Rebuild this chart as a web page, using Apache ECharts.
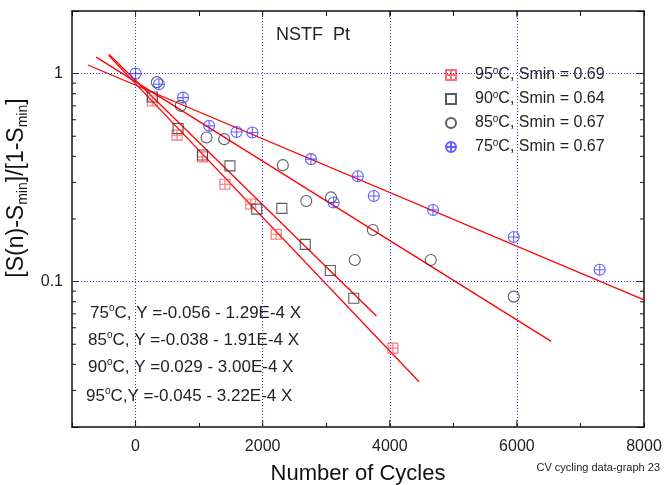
<!DOCTYPE html>
<html>
<head>
<meta charset="utf-8">
<script src="https://cdn.jsdelivr.net/npm/echarts@6/dist/echarts.min.js"></script>
<style>html,body{margin:0;padding:0;background:#fff}#c{width:664px;height:485px}</style>
</head>
<body>
<div id="c"></div>
<script>
// ---- axis ranges / ticks ----
const xMin = -1000, xMax = 8000, xStep = 1000;
const yMin = 0.02, yMax = 2;
const xGridValues = [0, 2000, 4000, 6000];
const xLabelValues = [0, 2000, 4000, 6000, 8000];
const yGridValues = [0.1, 1];
const yMinorTicks = [0.03, 0.04, 0.05, 0.06, 0.07, 0.08, 0.09, 0.2, 0.3, 0.4, 0.5, 0.6, 0.7, 0.8, 0.9];

// ---- series names ----
const names = ['95°C, Smin = 0.69', '90°C, Smin = 0.64', '85°C, Smin = 0.67', '75°C, Smin = 0.67'];

// ---- data ----
const x95 = [263, 653, 1053, 1406, 1812, 2212, 4049];
const y95 = [0.739, 0.506, 0.398, 0.294, 0.236, 0.169, 0.0479];
const x90 = [263, 669, 1053, 1485, 1906, 2302, 2670, 3065, 3433];
const y90 = [0.772, 0.545, 0.406, 0.360, 0.223, 0.225, 0.151, 0.113, 0.0832];
const x85 = [336, 711, 1117, 1395, 2317, 2686, 3076, 3449, 3733, 4645, 5951];
const y85 = [0.91, 0.70, 0.493, 0.484, 0.363, 0.244, 0.254, 0.127, 0.177, 0.127, 0.0847];
const x75 = [0, 368, 747, 1158, 1590, 1838, 2760, 3117, 3496, 3749, 4681, 5951, 7303];
const y75 = [1.0, 0.889, 0.767, 0.561, 0.524, 0.521, 0.388, 0.240, 0.321, 0.258, 0.221, 0.164, 0.114];

// ---- fitted lines (endpoints) ----
const fit75X = [-750, 8000], fit75Y = [1.10, 0.0817];
const fit85X = [-620, 6540], fit85Y = [1.20, 0.0516];
const fit90X = [-420, 3790], fit90Y = [1.24, 0.0684];
const fit95X = [-420, 4460], fit95Y = [1.22, 0.0330];

// ---- annotations ----
const eqTexts = [
  '75°C, Y =-0.056 - 1.29E-4 X',
  '85°C, Y =-0.038 - 1.91E-4 X',
  '90°C, Y =0.029 - 3.00E-4 X',
  '95°C,Y =-0.045 - 3.22E-4 X'
];
const plotTitle = 'NSTF  Pt';
const xTitle = 'Number of Cycles';
const footnote = 'CV cycling data-graph 23';

const FONT = 'Liberation Sans, Arial, sans-serif';
const zip = (xs, ys) => xs.map((x, i) => [x, ys[i]]);
const supRich = (s) => '{n|' + s.replace('°', '}{s|o}{n|') + '}';

const symCrossSquare = 'path://M0,0H10V10H0Z M5,0V10 M0,5H10';
const symSquare = 'path://M0,0H10V10H0Z';
const symCrossCircle = 'path://M10,5A5,5,0,1,1,0,5A5,5,0,1,1,10,5Z M5,0V10 M0,5H10';

const red = '#ff4a4a', blue = '#3a3aff', dark = '#333333';

const chart = echarts.init(document.getElementById('c'), null, {renderer: 'canvas'});

function scatter(name, data, symbol, color, size) {
  return {
    name, type: 'scatter', data, symbol, symbolSize: size, z: 5,
    itemStyle: {color: 'rgba(0,0,0,0)', borderColor: color, borderWidth: 1.1},
    emphasis: {disabled: true}
  };
}
function fitLine(xs, ys) {
  return {
    type: 'line', data: zip(xs, ys), showSymbol: false, symbol: 'none', z: 4,
    lineStyle: {color: '#ff0000', width: 1.3}, silent: true
  };
}

const eqGraphics = eqTexts.map((t, i) => ({
  type: 'text', left: [90, 88, 88, 86][i], top: [313, 340, 367, 396][i] - 10,
  style: {
    text: supRich(t), fill: '#222',
    rich: {n: {fontSize: 17, fontFamily: FONT, fill: '#222', lineHeight: 20}, s: {fontSize: 10, fontFamily: FONT, fill: '#222', verticalAlign: 'top', lineHeight: 10}}
  }
}));

const axisLineStyle = {show: true, onZero: false, lineStyle: {color: '#111', width: 1.5}};

const option = {
  animation: false,
  backgroundColor: '#fff',
  grid: {left: 72, right: 20, top: 11, bottom: 58, containLabel: false, outerBoundsMode: 'none'},
  xAxis: [{
    type: 'value', min: xMin, max: xMax, interval: xStep, position: 'bottom',
    axisLine: axisLineStyle,
    axisTick: {inside: true, length: 4, lineStyle: {color: '#111', width: 1}},
    axisLabel: {fontSize: 16, fontFamily: FONT, color: '#222', margin: 12,
      formatter: v => xLabelValues.indexOf(v) >= 0 ? String(v) : ''},
    splitLine: {show: false},
    name: xTitle, nameLocation: 'middle', nameGap: 36,
    nameTextStyle: {fontSize: 22, fontFamily: FONT, color: '#111'}
  }, {
    type: 'value', min: xMin, max: xMax, interval: xStep, position: 'top',
    axisLine: axisLineStyle,
    axisTick: {inside: true, length: 5, lineStyle: {color: '#111', width: 1}},
    axisLabel: {show: false}, splitLine: {show: false}
  }],
  yAxis: [{
    type: 'log', logBase: 10, min: yMin, max: yMax, position: 'left',
    axisLine: axisLineStyle,
    axisTick: {inside: true, length: 7, lineStyle: {color: '#111', width: 1}},
    axisLabel: {fontSize: 16, fontFamily: FONT, color: '#222', margin: 9,
      formatter: v => {
        for (const g of yGridValues) if (Math.abs(v - g) / g < 1e-6) return String(g);
        return '';
      }},
    splitLine: {show: false},
    name: '{m|[S(n)-S}{s|min}{m|]/[1-S}{s|min}{m|]}',
    nameLocation: 'middle', nameGap: 36,
    nameTextStyle: {padding: [0, 0, 0, 62], rich: {
      m: {fontSize: 23, fontFamily: FONT, color: '#111', lineHeight: 27},
      s: {fontSize: 14, fontFamily: FONT, color: '#111', verticalAlign: 'bottom', lineHeight: 14}
    }}
  }, {
    type: 'log', logBase: 10, min: yMin, max: yMax, position: 'right',
    axisLine: axisLineStyle,
    axisTick: {inside: true, length: 7, lineStyle: {color: '#111', width: 1}},
    axisLabel: {show: false}, splitLine: {show: false}
  }],
  legend: {
    orient: 'vertical', left: 440, top: 61, itemWidth: 10, itemHeight: 10, itemGap: 7,
    selectedMode: false,
    textStyle: {padding: [0, 0, 0, 14], rich: {
      n: {fontSize: 16, fontFamily: FONT, color: '#222', lineHeight: 18},
      s: {fontSize: 10, fontFamily: FONT, color: '#222', verticalAlign: 'top', lineHeight: 10}
    }},
    formatter: supRich,
    data: names
  },
  graphic: [
    {type: 'text', left: 276, top: 26, style: {text: plotTitle, font: '18px ' + FONT, fill: '#222'}},
    {type: 'text', right: 4, top: 462, style: {text: footnote, font: '11px ' + FONT, fill: '#222'}}
  ].concat(eqGraphics),
  series: [
    {
      type: 'line', data: [], silent: true, z: 1,
      markLine: {
        silent: true, symbol: 'none', label: {show: false},
        lineStyle: {color: '#3030ff', width: 1, type: [1, 2]},
        data: xGridValues.map(v => ({xAxis: v})).concat(yGridValues.map(v => ({yAxis: v})))
      }
    },
    {
      type: 'custom', silent: true, z: 3,
      data: yMinorTicks.map(v => [xMin, v]),
      renderItem: (params, api) => {
        const v = api.value(1);
        const L = api.coord([xMin, v]);
        const R = api.coord([xMax, v]);
        return {type: 'group', children: [
          {type: 'line', shape: {x1: L[0], y1: L[1], x2: L[0] + 4, y2: L[1]}, style: {stroke: '#111', lineWidth: 1}},
          {type: 'line', shape: {x1: R[0] - 4, y1: R[1], x2: R[0], y2: R[1]}, style: {stroke: '#111', lineWidth: 1}}
        ]};
      }
    },
    {
      type: 'custom', silent: true, z: 3,
      data: xGridValues.map(v => [v, yMin]),
      renderItem: (params, api) => {
        const v = api.value(0);
        const B = api.coord([v, yMin]);
        const T = api.coord([v, yMax]);
        return {type: 'group', children: [
          {type: 'line', shape: {x1: B[0], y1: B[1], x2: B[0], y2: B[1] - 7}, style: {stroke: '#111', lineWidth: 1}},
          {type: 'line', shape: {x1: T[0], y1: T[1], x2: T[0], y2: T[1] + 6}, style: {stroke: '#111', lineWidth: 1}}
        ]};
      }
    },
    fitLine(fit75X, fit75Y),
    fitLine(fit85X, fit85Y),
    fitLine(fit90X, fit90Y),
    fitLine(fit95X, fit95Y),
    scatter(names[0], zip(x95, y95), symCrossSquare, red, 10),
    scatter(names[1], zip(x90, y90), symSquare, dark, 10),
    scatter(names[2], zip(x85, y85), 'circle', dark, 11),
    scatter(names[3], zip(x75, y75), symCrossCircle, blue, 11)
  ]
};
chart.setOption(option);
</script>
</body>
</html>
